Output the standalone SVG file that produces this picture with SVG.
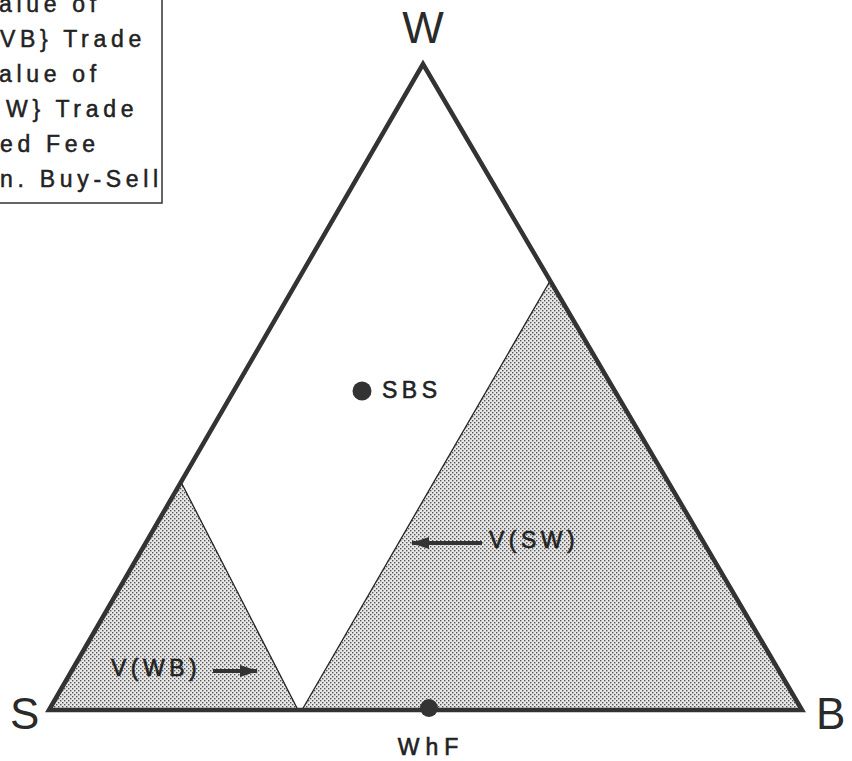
<svg xmlns="http://www.w3.org/2000/svg" width="852" height="761" viewBox="0 0 852 761">
<style>
text{font-family:"Liberation Sans",Arial,sans-serif;fill:#222}
.lbl{font-size:23px;letter-spacing:4.5px;stroke:#222;stroke-width:0.6}
.vtx{font-size:44px;fill:#2a2a2a}
.leg{font-size:23px;letter-spacing:4.7px;stroke:#222;stroke-width:0.5}
.thin{stroke:#222;stroke-width:1.3;fill:none}
.arr{stroke:#333;stroke-width:4;fill:none}
</style>
<defs>
<pattern id="dots" width="4" height="4" patternUnits="userSpaceOnUse">
<rect width="4" height="4" fill="#e8e8e8"/>
<rect x="0" y="0" width="1.4" height="1.4" fill="#555"/>
<rect x="2" y="2" width="1.4" height="1.4" fill="#555"/>
</pattern>
<marker id="ah" viewBox="0 0 18 12" refX="17" refY="6" markerWidth="18" markerHeight="12" orient="auto" markerUnits="userSpaceOnUse">
<path d="M0,0 L18,6 L0,12 z" fill="#333"/>
</marker>
</defs>
<rect width="852" height="761" fill="#fff"/>
<g id="legend">
<path d="M162,0 V203 H0" fill="none" stroke="#333" stroke-width="1.5"/>
<text class="leg" x="-1" y="12">alue of</text>
<text class="leg" x="0" y="47">VB} Trade</text>
<text class="leg" x="-1" y="82">alue of</text>
<text class="leg" x="6" y="117">W} Trade</text>
<text class="leg" x="0" y="152">ed Fee</text>
<text class="leg" x="0" y="187">n. Buy-Sell</text>
</g>
<g id="region-WB">
<polygon points="49,710 181,482 298,710" fill="url(#dots)"/>
<line class="thin" x1="181" y1="482" x2="298" y2="710"/>
</g>
<g id="region-SW">
<polygon points="302,710 550,281 802,710" fill="url(#dots)"/>
<line class="thin" x1="302" y1="710" x2="550" y2="281"/>
</g>
<g id="triangle">
<polygon points="49,710 423,64 802,710" fill="none" stroke="#333" stroke-width="4.5" stroke-linejoin="miter"/>
</g>
<g id="connectors">
<line class="arr" x1="482" y1="543" x2="412" y2="543" marker-end="url(#ah)"/>
<line class="arr" x1="213" y1="671" x2="257" y2="671" marker-end="url(#ah)"/>
</g>
<g id="node-W"><text class="vtx" x="423" y="43" text-anchor="middle">W</text></g>
<g id="node-S"><text class="vtx" x="10" y="729">S</text></g>
<g id="node-B"><text class="vtx" x="816" y="729">B</text></g>
<g id="node-SBS">
<circle cx="362" cy="391" r="9.5" fill="#333"/>
<text class="lbl" x="382" y="398">SBS</text>
</g>
<g id="node-WhF">
<circle cx="429" cy="708" r="9" fill="#333"/>
<text class="lbl" x="431" y="755" text-anchor="middle" style="letter-spacing:6px">WhF</text>
</g>
<g id="label-VSW"><text class="lbl" x="489" y="548">V(SW)</text></g>
<g id="label-VWB"><text class="lbl" x="111" y="676">V(WB)</text></g>
</svg>
